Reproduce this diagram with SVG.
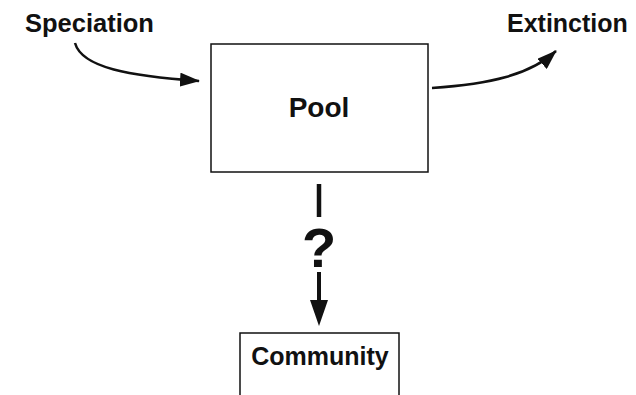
<svg xmlns="http://www.w3.org/2000/svg" width="636" height="395" viewBox="0 0 636 395">
<style>
.t{font-family:"Liberation Sans",Arial,sans-serif;font-weight:bold;fill:#111}
.box{fill:#fff;stroke:#111;stroke-width:1.5}
.c{fill:none;stroke:#111;stroke-width:2.5}
</style>
<defs>
<marker id="ah2" markerWidth="20" markerHeight="14" refX="19" refY="7" orient="auto" markerUnits="userSpaceOnUse" viewBox="0 0 20 14">
<path d="M0,0 L20,7 L0,14 Z" fill="#111"/>
</marker>
</defs>
<rect width="636" height="395" fill="#fff"/>
<g id="speciation"><text class="t" x="25" y="32" font-size="25.5">Speciation</text></g>
<g id="extinction"><text class="t" x="507" y="32" font-size="25">Extinction</text></g>
<g id="pool">
<rect class="box" x="211" y="44" width="217" height="128"/>
<text class="t" x="319" y="117" font-size="28" text-anchor="middle">Pool</text>
</g>
<g id="community">
<rect class="box" x="240" y="333" width="159" height="70"/>
<text class="t" x="320" y="365" font-size="25" text-anchor="middle">Community</text>
</g>
<g id="connectors">
<path class="c" d="M75,43 C82,68 130,76 199,81" marker-end="url(#ah2)"/>
<path class="c" d="M432,88 C490,84 530,75 556,51" marker-end="url(#ah2)"/>
<line x1="319" y1="184" x2="319" y2="217" stroke="#111" stroke-width="4.5"/>
<text class="t" x="319" y="267" font-size="56" text-anchor="middle">?</text>
<line x1="319" y1="272" x2="319" y2="305" stroke="#111" stroke-width="4"/>
<path d="M310,300 L328,300 L319,326 Z" fill="#111"/>
</g>
</svg>
